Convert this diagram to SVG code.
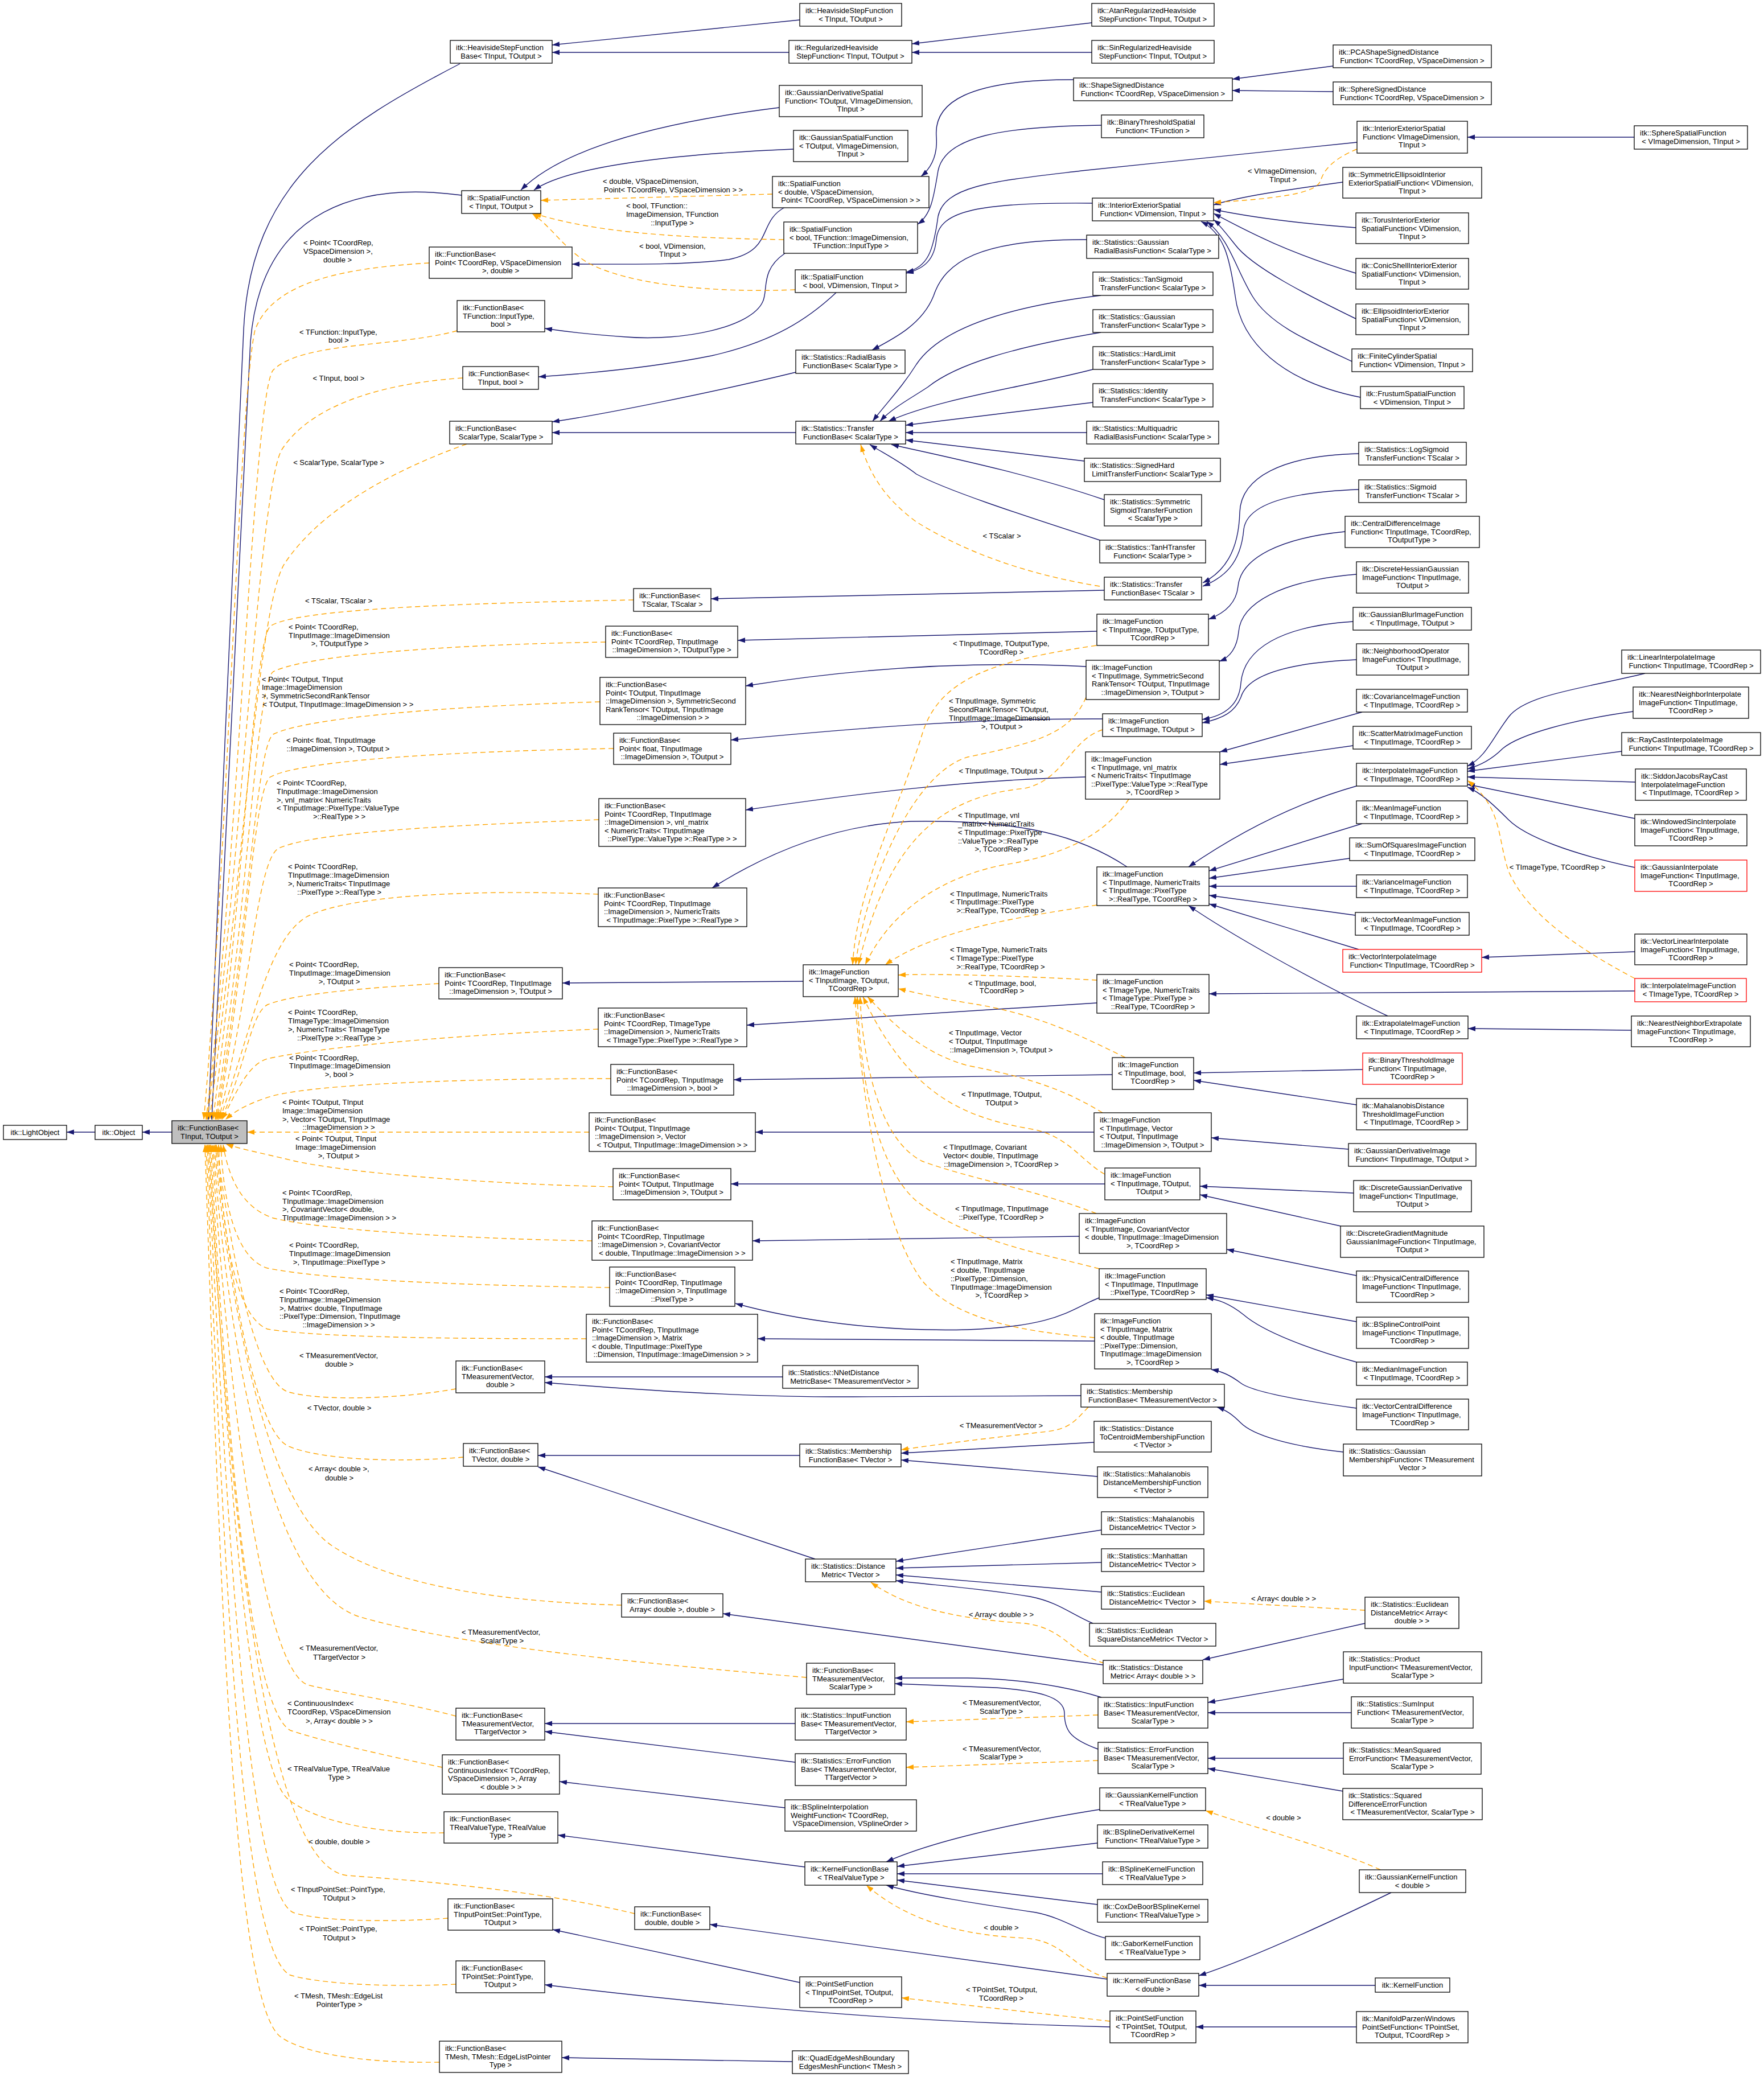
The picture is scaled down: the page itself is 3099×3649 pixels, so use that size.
<svg xmlns="http://www.w3.org/2000/svg" width="3099" height="3649" viewBox="0 0 3099 3649">
<style>
.b{fill:#fff;stroke:#000;stroke-width:1.3}
.g{fill:#bfbfbf;stroke:#000;stroke-width:1.3}
.r{fill:#fff;stroke:#ff0000;stroke-width:1.3}
text{font-family:"Liberation Sans",Arial,Helvetica,sans-serif;font-size:13px;fill:#000}
.c{text-anchor:middle}
.e{fill:none;stroke:#191970;stroke-width:1.4;marker-end:url(#an)}
.d{fill:none;stroke:#ffa500;stroke-width:1.4;stroke-dasharray:9,6;marker-end:url(#ao)}
</style>
<defs>
<marker id="an" markerWidth="14" markerHeight="10" refX="13" refY="5" orient="auto" markerUnits="userSpaceOnUse"><path d="M0,0.5 L13,5 L0,9.5 z" fill="#191970"/></marker>
<marker id="ao" markerWidth="14" markerHeight="10" refX="13" refY="5" orient="auto" markerUnits="userSpaceOnUse"><path d="M0,0.5 L13,5 L0,9.5 z" fill="#ffa500"/></marker>
</defs>
<rect width="3099" height="3649" fill="#fff"/>
<g id="connectors">
<path class="e" d="M167,1989 L117,1989"/>
<path class="e" d="M302,1989 L250,1989"/>
<path class="e" d="M808,112 C600,220 440,320 428,580 C415,900 380,1600 366,1967"/>
<path class="e" d="M811,343 C640,320 460,360 440,600 C425,900 390,1600 372,1967"/>
<path class="e" d="M1405,35 L970,79"/>
<path class="e" d="M1386,92 L970,92"/>
<path class="e" d="M1918,40 L1602,77"/>
<path class="e" d="M1918,92 L1602,92"/>
<path class="e" d="M1369,189 C1200,210 1000,250 915,334"/>
<path class="e" d="M1394,262 C1200,270 1000,290 938,334"/>
<path class="e" d="M1379,364 C1330,390 1360,440 1280,456 C1200,466 1100,464 1005,464"/>
<path class="e" d="M1886,140 C1700,140 1640,180 1645,240 C1648,280 1630,300 1618,310"/>
<path class="e" d="M2342,116 L2165,139"/>
<path class="e" d="M2342,161 L2165,159"/>
<path class="e" d="M1935,220 C1760,222 1660,240 1648,300 C1640,350 1635,378 1612,394"/>
<path class="e" d="M1379,445 C1335,475 1350,510 1340,530 C1320,575 1200,600 1100,592 C1040,588 990,582 957,577"/>
<path class="e" d="M1469,514 C1420,560 1360,600 1250,625 C1150,645 1050,655 946,662"/>
<path class="e" d="M1398,654 C1250,690 1050,730 970,741"/>
<path class="e" d="M1398,760 L970,760"/>
<path class="e" d="M1919,357 C1720,355 1650,370 1645,420 C1642,455 1625,472 1592,480"/>
<path class="e" d="M2384,250 L1900,300 C1750,318 1660,325 1648,380 C1640,440 1630,470 1592,478"/>
<path class="e" d="M1909,421 C1720,420 1660,460 1640,520 C1620,570 1570,595 1532,615"/>
<path class="e" d="M2871,241 L2578,241"/>
<path class="e" d="M2359,320 C2250,335 2180,345 2132,360"/>
<path class="e" d="M2382,400 C2250,390 2180,378 2132,368"/>
<path class="e" d="M2382,480 C2250,440 2180,400 2132,375"/>
<path class="e" d="M2382,560 C2300,520 2200,470 2170,430 C2150,405 2140,392 2132,386"/>
<path class="e" d="M2375,635 C2300,600 2230,570 2200,520 C2170,470 2160,420 2120,389"/>
<path class="e" d="M2390,698 C2250,670 2180,600 2170,520 C2160,450 2150,410 2110,389"/>
<path class="e" d="M1934,519 C1760,540 1650,580 1610,640 C1585,680 1560,705 1533,740"/>
<path class="e" d="M1934,584 C1780,610 1680,640 1630,680 C1600,700 1570,715 1546,740"/>
<path class="e" d="M1920,649 C1800,680 1650,700 1561,740"/>
<path class="e" d="M1920,707 L1591,747"/>
<path class="e" d="M1909,760 L1591,760"/>
<path class="e" d="M1905,810 L1591,773"/>
<path class="e" d="M1940,878 C1800,830 1650,800 1566,781"/>
<path class="e" d="M1932,949 C1780,900 1660,860 1610,833 C1580,810 1550,795 1528,781"/>
<path class="d" d="M1932,1030 C1780,1005 1680,960 1610,917 C1560,880 1530,840 1512,781"/>
<path class="e" d="M2387,797 C2250,800 2180,840 2178,900 C2176,970 2150,1005 2113,1024"/>
<path class="e" d="M2387,860 C2250,865 2190,890 2185,930 C2180,990 2150,1015 2113,1030"/>
<path class="e" d="M1940,1037 L1249,1052"/>
<path class="e" d="M1927,1109 L1296,1125"/>
<path class="e" d="M2363,934 C2250,945 2180,980 2175,1030 C2172,1060 2150,1078 2123,1088"/>
<path class="e" d="M1908,1171 C1700,1160 1500,1175 1310,1205"/>
<path class="e" d="M2383,1009 C2250,1020 2180,1060 2176,1110 C2173,1140 2160,1155 2142,1162"/>
<path class="e" d="M1937,1263 C1700,1262 1500,1280 1284,1300"/>
<path class="e" d="M2377,1092 C2250,1100 2185,1140 2180,1200 C2177,1240 2150,1258 2112,1264"/>
<path class="e" d="M2383,1159 C2250,1165 2190,1190 2180,1225 C2170,1250 2150,1262 2112,1270"/>
<path class="e" d="M1907,1365 C1700,1370 1500,1395 1310,1423"/>
<path class="e" d="M2393,1251 L2143,1321"/>
<path class="e" d="M2377,1310 L2143,1343"/>
<path class="e" d="M1980,1523 C1900,1470 1800,1440 1600,1443 C1450,1450 1330,1510 1251,1560"/>
<path class="e" d="M2383,1381 C2280,1410 2180,1460 2088,1523"/>
<path class="e" d="M2393,1447 L2124,1530"/>
<path class="e" d="M2371,1508 L2124,1543"/>
<path class="e" d="M2383,1557 L2124,1557"/>
<path class="e" d="M2381,1608 L2124,1573"/>
<path class="e" d="M2387,1668 L2124,1588"/>
<path class="e" d="M2438,1785 C2300,1720 2160,1640 2088,1591"/>
<path class="e" d="M2890,1183 C2780,1210 2680,1220 2650,1260 C2620,1300 2610,1330 2578,1346"/>
<path class="e" d="M2869,1250 C2760,1265 2670,1290 2640,1315 C2620,1335 2600,1345 2578,1351"/>
<path class="e" d="M2849,1320 L2578,1355"/>
<path class="e" d="M2873,1374 L2578,1365"/>
<path class="e" d="M2872,1438 L2578,1378"/>
<path class="e" d="M2872,1524 C2760,1500 2680,1470 2650,1440 C2620,1410 2600,1392 2578,1383"/>
<path class="d" d="M2872,1719 C2760,1660 2680,1600 2650,1530 C2630,1470 2640,1420 2578,1371"/>
<path class="e" d="M2872,1741 L2124,1746"/>
<path class="e" d="M2872,1672 L2603,1682"/>
<path class="e" d="M2866,1810 L2579,1807"/>
<path class="e" d="M1927,1762 C1700,1775 1500,1790 1312,1801"/>
<path class="e" d="M1411,1724 L988,1727"/>
<path class="e" d="M1954,1888 L1289,1897"/>
<path class="e" d="M2394,1879 L2097,1885"/>
<path class="e" d="M2383,1941 L2097,1898"/>
<path class="e" d="M1922,1989 L1327,1989"/>
<path class="e" d="M2369,2019 L2128,1999"/>
<path class="e" d="M1941,2080 L1284,2080"/>
<path class="e" d="M2378,2096 L2108,2084"/>
<path class="e" d="M2355,2154 L2108,2099"/>
<path class="e" d="M1896,2172 L1322,2180"/>
<path class="e" d="M2383,2241 L2155,2195"/>
<path class="e" d="M1931,2280 C1880,2300 1860,2330 1700,2336 C1550,2340 1400,2320 1292,2290"/>
<path class="e" d="M2383,2322 L2119,2275"/>
<path class="e" d="M2383,2393 C2300,2370 2220,2340 2185,2310 C2160,2290 2140,2283 2119,2280"/>
<path class="e" d="M1923,2356 L1331,2352"/>
<path class="e" d="M2383,2474 C2280,2460 2200,2445 2180,2430 C2160,2415 2145,2409 2128,2406"/>
<path class="e" d="M1375,2419 L957,2419"/>
<path class="e" d="M1899,2452 L1500,2454 C1300,2455 1100,2440 957,2429"/>
<path class="e" d="M2360,2551 C2260,2540 2200,2520 2180,2500 C2165,2485 2155,2478 2138,2472"/>
<path class="e" d="M1405,2557 L945,2557"/>
<path class="d" d="M1912,2472 C1890,2495 1880,2510 1840,2515 C1750,2525 1650,2537 1583,2547"/>
<path class="e" d="M1922,2534 L1583,2553"/>
<path class="e" d="M1928,2594 L1583,2565"/>
<path class="e" d="M1432,2739 L945,2577"/>
<path class="e" d="M1935,2688 L1574,2743"/>
<path class="e" d="M1935,2745 L1574,2755"/>
<path class="e" d="M1935,2797 L1574,2767"/>
<path class="e" d="M1920,2852 C1880,2835 1860,2815 1810,2805 C1720,2790 1640,2785 1574,2777"/>
<path class="e" d="M1938,2925 L1270,2835"/>
<path class="d" d="M1940,2922 C1880,2905 1870,2860 1800,2852 C1700,2845 1600,2830 1530,2780"/>
<path class="e" d="M2398,2852 L2113,2916"/>
<path class="d" d="M2398,2829 L2115,2813"/>
<path class="e" d="M1935,2982 C1880,2965 1800,2950 1700,2948 L1572,2948"/>
<path class="e" d="M1929,3073 C1880,3055 1870,3040 1870,3010 C1870,2980 1820,2970 1750,2965 C1680,2962 1620,2960 1572,2958"/>
<path class="d" d="M1929,3013 L1592,3025"/>
<path class="d" d="M1929,3093 L1592,3105"/>
<path class="e" d="M2360,2950 L2122,2991"/>
<path class="e" d="M2374,3009 L2122,3009"/>
<path class="e" d="M2360,3089 L2122,3089"/>
<path class="e" d="M2360,3147 L2122,3107"/>
<path class="e" d="M1397,3028 L957,3028"/>
<path class="e" d="M1397,3096 L957,3042"/>
<path class="e" d="M1379,3176 L983,3130"/>
<path class="e" d="M1414,3280 L980,3224"/>
<path class="e" d="M1932,3179 C1800,3200 1650,3230 1557,3271"/>
<path class="e" d="M1928,3238 L1576,3279"/>
<path class="e" d="M1937,3292 L1576,3292"/>
<path class="e" d="M1928,3346 L1576,3303"/>
<path class="e" d="M1942,3405 C1900,3395 1870,3370 1820,3360 C1720,3345 1620,3330 1557,3312"/>
<path class="e" d="M1945,3477 L1247,3381"/>
<path class="d" d="M1945,3475 C1880,3455 1870,3410 1800,3405 C1700,3400 1600,3380 1522,3312"/>
<path class="e" d="M2444,3325 C2330,3380 2200,3440 2106,3471"/>
<path class="d" d="M2425,3285 C2350,3250 2200,3210 2118,3181"/>
<path class="e" d="M2416,3488 L2106,3488"/>
<path class="e" d="M1405,3483 L971,3390"/>
<path class="e" d="M1950,3561 C1700,3555 1400,3540 957,3487"/>
<path class="d" d="M1950,3551 L1584,3510"/>
<path class="e" d="M2383,3561 L2101,3561"/>
<path class="e" d="M1392,3622 L987,3615"/>
<path class="d" d="M1357,341 L950,352"/>
<path class="d" d="M1377,421 C1200,418 1050,410 938,375"/>
<path class="d" d="M1397,509 C1250,515 1100,500 1030,460 C990,435 970,400 935,375"/>
<path class="d" d="M2384,262 C2340,280 2325,300 2320,318 C2310,340 2250,348 2132,356"/>
<path class="d" d="M1926,1134 C1750,1160 1650,1190 1620,1290 C1580,1420 1505,1560 1498,1695"/>
<path class="d" d="M1908,1225 C1880,1290 1820,1305 1700,1330 C1600,1360 1520,1560 1503,1695"/>
<path class="d" d="M1937,1282 C1880,1300 1870,1370 1800,1385 C1650,1400 1560,1480 1508,1695"/>
<path class="d" d="M1983,1404 C1940,1470 1860,1505 1760,1520 C1640,1545 1560,1610 1520,1695"/>
<path class="d" d="M1927,1590 C1800,1610 1650,1630 1555,1695"/>
<path class="d" d="M1927,1722 C1800,1715 1650,1710 1578,1713"/>
<path class="d" d="M1977,1858 C1900,1820 1820,1780 1700,1762 C1640,1752 1600,1742 1578,1737"/>
<path class="d" d="M1937,1955 C1880,1920 1820,1895 1700,1872 C1620,1850 1570,1800 1524,1751"/>
<path class="d" d="M1941,2063 C1900,2040 1880,2000 1820,1985 C1700,1965 1600,1930 1516,1751"/>
<path class="d" d="M1926,2132 C1820,2090 1700,2070 1620,2040 C1540,2000 1515,1850 1511,1751"/>
<path class="d" d="M1931,2229 C1820,2200 1700,2180 1610,2110 C1530,2040 1510,1860 1506,1751"/>
<path class="d" d="M1923,2350 C1800,2340 1680,2320 1620,2250 C1540,2140 1510,1880 1502,1751"/>
<path class="d" d="M754,462 C620,470 480,490 448,580 C420,700 400,1500 358,1967"/>
<path class="d" d="M803,581 C700,610 530,600 480,650 C445,690 420,1500 362,1967"/>
<path class="d" d="M813,664 C650,675 540,720 495,790 C455,860 425,1500 364,1967"/>
<path class="d" d="M820,780 C680,830 560,900 500,990 C455,1060 430,1500 368,1967"/>
<path class="d" d="M1113,1054 C800,1060 520,1070 475,1100 C445,1130 430,1550 374,1967"/>
<path class="d" d="M1064,1128 C800,1132 540,1150 480,1180 C450,1200 435,1600 378,1967"/>
<path class="d" d="M1054,1233 C800,1240 540,1260 480,1290 C450,1310 435,1650 380,1967"/>
<path class="d" d="M1078,1315 C800,1320 530,1335 475,1365 C445,1385 432,1700 382,1967"/>
<path class="d" d="M1052,1440 C800,1450 560,1460 490,1490 C450,1510 440,1750 384,1967"/>
<path class="d" d="M1051,1571 C850,1563 620,1570 540,1610 C470,1650 445,1800 386,1967"/>
<path class="d" d="M771,1728 C650,1735 520,1745 470,1765 C440,1780 430,1880 388,1967"/>
<path class="d" d="M1051,1808 C800,1818 560,1840 470,1860 C435,1870 415,1920 390,1967"/>
<path class="d" d="M1073,1895 C800,1895 560,1905 480,1925 C440,1937 415,1950 396,1967"/>
<path class="d" d="M1035,1989 L434,1989"/>
<path class="d" d="M1077,2085 C850,2080 600,2060 510,2038 C460,2026 420,2018 397,2010"/>
<path class="d" d="M1040,2180 C800,2176 560,2160 480,2140 C420,2120 400,2060 392,2011"/>
<path class="d" d="M1071,2262 C800,2258 570,2248 470,2228 C410,2210 392,2100 388,2011"/>
<path class="d" d="M1030,2352 C800,2352 560,2350 470,2335 C405,2310 388,2120 384,2011"/>
<path class="d" d="M801,2440 C700,2458 560,2462 505,2445 C440,2420 400,2150 380,2011"/>
<path class="d" d="M814,2560 C700,2570 560,2565 505,2540 C440,2505 400,2200 378,2011"/>
<path class="d" d="M1092,2820 C900,2815 700,2790 590,2720 C470,2650 405,2300 376,2011"/>
<path class="d" d="M1417,2947 C1100,2920 800,2890 630,2840 C480,2790 405,2400 374,2011"/>
<path class="d" d="M801,3015 C700,2988 600,2975 540,2960 C465,2930 405,2500 372,2011"/>
<path class="d" d="M777,3105 C680,3085 570,3060 510,3040 C440,3000 400,2550 370,2011"/>
<path class="d" d="M780,3220 C680,3222 560,3205 505,3160 C440,3100 400,2600 368,2011"/>
<path class="d" d="M1115,3362 C950,3322 750,3305 610,3295 C470,3280 405,2700 366,2011"/>
<path class="d" d="M787,3370 C680,3378 560,3375 515,3360 C435,3320 400,2700 364,2011"/>
<path class="d" d="M801,3486 C680,3492 560,3485 510,3470 C425,3430 395,2800 362,2011"/>
<path class="d" d="M772,3623 C650,3625 540,3610 495,3580 C415,3530 390,2900 360,2011"/>
</g>
<g id="edge-labels">
<text x="533" y="431">&lt; Point&lt; TCoordRep,</text><text x="533" y="446">VSpaceDimension &gt;,</text><text class="c" x="593" y="461">double &gt;</text>
<text x="526" y="588">&lt; TFunction::InputType,</text><text class="c" x="595" y="602">bool &gt;</text>
<text class="c" x="595" y="669">&lt; TInput, bool &gt;</text>
<text class="c" x="595" y="817">&lt; ScalarType, ScalarType &gt;</text>
<text class="c" x="595" y="1060">&lt; TScalar, TScalar &gt;</text>
<text x="507" y="1106">&lt; Point&lt; TCoordRep,</text><text x="507" y="1121">TInputImage::ImageDimension</text><text class="c" x="597" y="1135">&gt;, TOutputType &gt;</text>
<text x="460" y="1198">&lt; Point&lt; TOutput, TInput</text><text x="460" y="1212">Image::ImageDimension</text><text x="460" y="1227">&gt;, SymmetricSecondRankTensor</text><text class="c" x="594" y="1242">&lt; TOutput, TInputImage::ImageDimension &gt; &gt;</text>
<text x="503" y="1305">&lt; Point&lt; float, TInputImage</text><text class="c" x="594" y="1320">::ImageDimension &gt;, TOutput &gt;</text>
<text x="486" y="1380">&lt; Point&lt; TCoordRep,</text><text x="486" y="1395">TInputImage::ImageDimension</text><text x="486" y="1410">&gt;, vnl_matrix&lt; NumericTraits</text><text x="486" y="1424">&lt; TInputImage::PixelType::ValueType</text><text class="c" x="596" y="1439">&gt;::RealType &gt; &gt;</text>
<text x="506" y="1527">&lt; Point&lt; TCoordRep,</text><text x="506" y="1542">TInputImage::ImageDimension</text><text x="506" y="1557">&gt;, NumericTraits&lt; TInputImage</text><text class="c" x="596" y="1572">::PixelType &gt;::RealType &gt;</text>
<text x="508" y="1699">&lt; Point&lt; TCoordRep,</text><text x="508" y="1714">TInputImage::ImageDimension</text><text class="c" x="596" y="1729">&gt;, TOutput &gt;</text>
<text x="506" y="1783">&lt; Point&lt; TCoordRep,</text><text x="506" y="1798">TImageType::ImageDimension</text><text x="506" y="1813">&gt;, NumericTraits&lt; TImageType</text><text class="c" x="596" y="1828">::PixelType &gt;::RealType &gt;</text>
<text x="508" y="1863">&lt; Point&lt; TCoordRep,</text><text x="508" y="1877">TInputImage::ImageDimension</text><text class="c" x="596" y="1892">&gt;, bool &gt;</text>
<text x="496" y="1941">&lt; Point&lt; TOutput, TInput</text><text x="496" y="1956">Image::ImageDimension</text><text x="496" y="1971">&gt;, Vector&lt; TOutput, TInputImage</text><text class="c" x="595" y="1985">::ImageDimension &gt; &gt;</text>
<text x="519" y="2005">&lt; Point&lt; TOutput, TInput</text><text x="519" y="2020">Image::ImageDimension</text><text class="c" x="595" y="2035">&gt;, TOutput &gt;</text>
<text x="496" y="2100">&lt; Point&lt; TCoordRep,</text><text x="496" y="2115">TInputImage::ImageDimension</text><text x="496" y="2129">&gt;, CovariantVector&lt; double,</text><text class="c" x="596" y="2144">TInputImage::ImageDimension &gt; &gt;</text>
<text x="508" y="2192">&lt; Point&lt; TCoordRep,</text><text x="508" y="2207">TInputImage::ImageDimension</text><text class="c" x="596" y="2222">&gt;, TInputImage::PixelType &gt;</text>
<text x="491" y="2273">&lt; Point&lt; TCoordRep,</text><text x="491" y="2288">TInputImage::ImageDimension</text><text x="491" y="2303">&gt;, Matrix&lt; double, TInputImage</text><text x="491" y="2317">::PixelType::Dimension, TInputImage</text><text class="c" x="595" y="2332">::ImageDimension &gt; &gt;</text>
<text x="526" y="2386">&lt; TMeasurementVector,</text><text class="c" x="596" y="2401">double &gt;</text>
<text class="c" x="596" y="2478">&lt; TVector, double &gt;</text>
<text x="542" y="2585">&lt; Array&lt; double &gt;,</text><text class="c" x="596" y="2601">double &gt;</text>
<text x="811" y="2872">&lt; TMeasurementVector,</text><text class="c" x="882" y="2887">ScalarType &gt;</text>
<text x="526" y="2900">&lt; TMeasurementVector,</text><text class="c" x="596" y="2916">TTargetVector &gt;</text>
<text x="505" y="2997">&lt; ContinuousIndex&lt;</text><text x="505" y="3012">TCoordRep, VSpaceDimension</text><text class="c" x="596" y="3028">&gt;, Array&lt; double &gt; &gt;</text>
<text x="505" y="3112">&lt; TRealValueType, TRealValue</text><text class="c" x="596" y="3127">Type &gt;</text>
<text class="c" x="596" y="3240">&lt; double, double &gt;</text>
<text x="511" y="3324">&lt; TInputPointSet::PointType,</text><text class="c" x="596" y="3339">TOutput &gt;</text>
<text x="526" y="3393">&lt; TPointSet::PointType,</text><text class="c" x="596" y="3409">TOutput &gt;</text>
<text x="517" y="3511">&lt; TMesh, TMesh::EdgeList</text><text class="c" x="596" y="3526">PointerType &gt;</text>
<text x="1059" y="323">&lt; double, VSpaceDimension,</text><text class="c" x="1183" y="338">Point&lt; TCoordRep, VSpaceDimension &gt; &gt;</text>
<text x="1100" y="366">&lt; bool, TFunction::</text><text x="1100" y="381">ImageDimension, TFunction</text><text class="c" x="1181" y="396">::InputType &gt;</text>
<text x="1123" y="437">&lt; bool, VDimension,</text><text class="c" x="1182" y="451">TInput &gt;</text>
<text x="2192" y="305">&lt; VImageDimension,</text><text class="c" x="2254" y="320">TInput &gt;</text>
<text class="c" x="1760" y="946">&lt; TScalar &gt;</text>
<text x="1674" y="1135">&lt; TInputImage, TOutputType,</text><text class="c" x="1759" y="1150">TCoordRep &gt;</text>
<text x="1667" y="1236">&lt; TInputImage, Symmetric</text><text x="1667" y="1251">SecondRankTensor&lt; TOutput,</text><text x="1667" y="1266">TInputImage::ImageDimension</text><text class="c" x="1760" y="1281">&gt;, TOutput &gt;</text>
<text class="c" x="1759" y="1359">&lt; TInputImage, TOutput &gt;</text>
<text x="1683" y="1437">&lt; TInputImage, vnl</text><text x="1683" y="1452">_matrix&lt; NumericTraits</text><text x="1683" y="1467">&lt; TInputImage::PixelType</text><text x="1683" y="1482">::ValueType &gt;::RealType</text><text class="c" x="1759" y="1496">&gt;, TCoordRep &gt;</text>
<text x="1669" y="1575">&lt; TInputImage, NumericTraits</text><text x="1669" y="1589">&lt; TInputImage::PixelType</text><text class="c" x="1758" y="1604">&gt;::RealType, TCoordRep &gt;</text>
<text x="1669" y="1673">&lt; TImageType, NumericTraits</text><text x="1669" y="1688">&lt; TImageType::PixelType</text><text class="c" x="1758" y="1703">&gt;::RealType, TCoordRep &gt;</text>
<text x="1701" y="1732">&lt; TInputImage, bool,</text><text class="c" x="1760" y="1745">TCoordRep &gt;</text>
<text x="1667" y="1819">&lt; TInputImage, Vector</text><text x="1667" y="1834">&lt; TOutput, TInputImage</text><text class="c" x="1759" y="1849">::ImageDimension &gt;, TOutput &gt;</text>
<text x="1689" y="1927">&lt; TInputImage, TOutput,</text><text class="c" x="1760" y="1942">TOutput &gt;</text>
<text x="1657" y="2020">&lt; TInputImage, Covariant</text><text x="1657" y="2035">Vector&lt; double, TInputImage</text><text class="c" x="1759" y="2050">::ImageDimension &gt;, TCoordRep &gt;</text>
<text x="1678" y="2128">&lt; TInputImage, TInputImage</text><text class="c" x="1759" y="2143">::PixelType, TCoordRep &gt;</text>
<text x="1670" y="2221">&lt; TInputImage, Matrix</text><text x="1670" y="2236">&lt; double, TInputImage</text><text x="1670" y="2251">::PixelType::Dimension,</text><text x="1670" y="2266">TInputImage::ImageDimension</text><text class="c" x="1760" y="2280">&gt;, TCoordRep &gt;</text>
<text class="c" x="2736" y="1528">&lt; TImageType, TCoordRep &gt;</text>
<text class="c" x="1759" y="2509">&lt; TMeasurementVector &gt;</text>
<text class="c" x="2255" y="2813">&lt; Array&lt; double &gt; &gt;</text>
<text class="c" x="1759" y="2841">&lt; Array&lt; double &gt; &gt;</text>
<text x="1691" y="2996">&lt; TMeasurementVector,</text><text class="c" x="1759" y="3011">ScalarType &gt;</text>
<text x="1691" y="3077">&lt; TMeasurementVector,</text><text class="c" x="1759" y="3091">ScalarType &gt;</text>
<text class="c" x="2255" y="3198">&lt; double &gt;</text>
<text class="c" x="1759" y="3391">&lt; double &gt;</text>
<text x="1697" y="3500">&lt; TPointSet, TOutput,</text><text class="c" x="1759" y="3515">TCoordRep &gt;</text>
</g>
<g id="lightobject"><rect class="b" x="6" y="1977" width="111" height="25"/><text class="c" x="61.5" y="1994">itk::LightObject</text></g>
<g id="object"><rect class="b" x="167" y="1977" width="83" height="25"/><text class="c" x="208.5" y="1994">itk::Object</text></g>
<g id="functionbase"><rect class="g" x="302" y="1969" width="132" height="40"/><text x="312" y="1986">itk::FunctionBase&lt;</text><text class="c" x="368" y="2000.5">TInput, TOutput &gt;</text></g>
<g id="hsfbase"><rect class="b" x="791" y="71" width="179" height="40"/><text x="801" y="88">itk::HeavisideStepFunction</text><text class="c" x="880.5" y="102.5">Base&lt; TInput, TOutput &gt;</text></g>
<g id="hsf"><rect class="b" x="1405" y="6" width="179" height="40"/><text x="1415" y="23">itk::HeavisideStepFunction</text><text class="c" x="1494.5" y="37.5">&lt; TInput, TOutput &gt;</text></g>
<g id="regh"><rect class="b" x="1386" y="71" width="216" height="40"/><text x="1396" y="88">itk::RegularizedHeaviside</text><text class="c" x="1494" y="102.5">StepFunction&lt; TInput, TOutput &gt;</text></g>
<g id="atan"><rect class="b" x="1918" y="6" width="215" height="40"/><text x="1928" y="23">itk::AtanRegularizedHeaviside</text><text class="c" x="2025.5" y="37.5">StepFunction&lt; TInput, TOutput &gt;</text></g>
<g id="sinreg"><rect class="b" x="1918" y="71" width="215" height="40"/><text x="1928" y="88">itk::SinRegularizedHeaviside</text><text class="c" x="2025.5" y="102.5">StepFunction&lt; TInput, TOutput &gt;</text></g>
<g id="gds"><rect class="b" x="1369" y="150" width="251" height="55"/><text x="1379" y="167">itk::GaussianDerivativeSpatial</text><text x="1379" y="181.5">Function&lt; TOutput, VImageDimension,</text><text class="c" x="1494.5" y="196">TInput &gt;</text></g>
<g id="gsf"><rect class="b" x="1394" y="229" width="201" height="55"/><text x="1404" y="246">itk::GaussianSpatialFunction</text><text x="1404" y="260.5">&lt; TOutput, VImageDimension,</text><text class="c" x="1494.5" y="275">TInput &gt;</text></g>
<g id="sfdouble"><rect class="b" x="1357" y="310" width="275" height="55"/><text x="1367" y="327">itk::SpatialFunction</text><text x="1367" y="341.5">&lt; double, VSpaceDimension,</text><text class="c" x="1494.5" y="356">Point&lt; TCoordRep, VSpaceDimension &gt; &gt;</text></g>
<g id="sfbooltf"><rect class="b" x="1377" y="390" width="235" height="55"/><text x="1387" y="407">itk::SpatialFunction</text><text x="1387" y="421.5">&lt; bool, TFunction::ImageDimension,</text><text class="c" x="1494.5" y="436">TFunction::InputType &gt;</text></g>
<g id="sfboolv"><rect class="b" x="1397" y="474" width="195" height="40"/><text x="1407" y="491">itk::SpatialFunction</text><text class="c" x="1494.5" y="505.5">&lt; bool, VDimension, TInput &gt;</text></g>
<g id="sf"><rect class="b" x="811" y="335" width="139" height="40"/><text x="821" y="352">itk::SpatialFunction</text><text class="c" x="880.5" y="366.5">&lt; TInput, TOutput &gt;</text></g>
<g id="fbvspace"><rect class="b" x="754" y="434" width="251" height="55"/><text x="764" y="451">itk::FunctionBase&lt;</text><text x="764" y="465.5">Point&lt; TCoordRep, VSpaceDimension</text><text class="c" x="879.5" y="480">&gt;, double &gt;</text></g>
<g id="fbtfunction"><rect class="b" x="803" y="528" width="154" height="55"/><text x="813" y="545">itk::FunctionBase&lt;</text><text x="813" y="559.5">TFunction::InputType,</text><text class="c" x="880" y="574">bool &gt;</text></g>
<g id="fbtinputbool"><rect class="b" x="813" y="644" width="133" height="40"/><text x="823" y="661">itk::FunctionBase&lt;</text><text class="c" x="879.5" y="675.5">TInput, bool &gt;</text></g>
<g id="fbscalar"><rect class="b" x="790" y="740" width="180" height="40"/><text x="800" y="757">itk::FunctionBase&lt;</text><text class="c" x="880" y="771.5">ScalarType, ScalarType &gt;</text></g>
<g id="ssdf"><rect class="b" x="1886" y="137" width="279" height="40"/><text x="1896" y="154">itk::ShapeSignedDistance</text><text class="c" x="2025.5" y="168.5">Function&lt; TCoordRep, VSpaceDimension &gt;</text></g>
<g id="pcassdf"><rect class="b" x="2342" y="79" width="278" height="40"/><text x="2352" y="96">itk::PCAShapeSignedDistance</text><text class="c" x="2481" y="110.5">Function&lt; TCoordRep, VSpaceDimension &gt;</text></g>
<g id="spheresdf"><rect class="b" x="2342" y="144" width="278" height="40"/><text x="2352" y="161">itk::SphereSignedDistance</text><text class="c" x="2481" y="175.5">Function&lt; TCoordRep, VSpaceDimension &gt;</text></g>
<g id="btsf"><rect class="b" x="1935" y="202" width="180" height="40"/><text x="1945" y="219">itk::BinaryThresholdSpatial</text><text class="c" x="2025" y="233.5">Function&lt; TFunction &gt;</text></g>
<g id="iesfv"><rect class="b" x="1919" y="348" width="213" height="40"/><text x="1929" y="365">itk::InteriorExteriorSpatial</text><text class="c" x="2025.5" y="379.5">Function&lt; VDimension, TInput &gt;</text></g>
<g id="grbf"><rect class="b" x="1909" y="413" width="232" height="41"/><text x="1919" y="430">itk::Statistics::Gaussian</text><text class="c" x="2025" y="444.5">RadialBasisFunction&lt; ScalarType &gt;</text></g>
<g id="tansig"><rect class="b" x="1920" y="478" width="211" height="41"/><text x="1930" y="495">itk::Statistics::TanSigmoid</text><text class="c" x="2025.5" y="509.5">TransferFunction&lt; ScalarType &gt;</text></g>
<g id="gausstf"><rect class="b" x="1920" y="544" width="211" height="40"/><text x="1930" y="561">itk::Statistics::Gaussian</text><text class="c" x="2025.5" y="575.5">TransferFunction&lt; ScalarType &gt;</text></g>
<g id="hardlim"><rect class="b" x="1920" y="609" width="211" height="40"/><text x="1930" y="626">itk::Statistics::HardLimit</text><text class="c" x="2025.5" y="640.5">TransferFunction&lt; ScalarType &gt;</text></g>
<g id="identity"><rect class="b" x="1920" y="674" width="211" height="41"/><text x="1930" y="691">itk::Statistics::Identity</text><text class="c" x="2025.5" y="705.5">TransferFunction&lt; ScalarType &gt;</text></g>
<g id="multiq"><rect class="b" x="1909" y="740" width="232" height="40"/><text x="1919" y="757">itk::Statistics::Multiquadric</text><text class="c" x="2025" y="771.5">RadialBasisFunction&lt; ScalarType &gt;</text></g>
<g id="signedhl"><rect class="b" x="1905" y="805" width="239" height="41"/><text x="1915" y="822">itk::Statistics::SignedHard</text><text class="c" x="2024.5" y="836.5">LimitTransferFunction&lt; ScalarType &gt;</text></g>
<g id="symsig"><rect class="b" x="1940" y="869" width="171" height="55"/><text x="1950" y="886">itk::Statistics::Symmetric</text><text x="1950" y="900.5">SigmoidTransferFunction</text><text class="c" x="2025.5" y="915">&lt; ScalarType &gt;</text></g>
<g id="tanh"><rect class="b" x="1932" y="949" width="186" height="40"/><text x="1942" y="966">itk::Statistics::TanHTransfer</text><text class="c" x="2025" y="980.5">Function&lt; ScalarType &gt;</text></g>
<g id="rbfb"><rect class="b" x="1398" y="615" width="192" height="41"/><text x="1408" y="632">itk::Statistics::RadialBasis</text><text class="c" x="1494" y="646.5">FunctionBase&lt; ScalarType &gt;</text></g>
<g id="tfbscalar"><rect class="b" x="1398" y="740" width="193" height="40"/><text x="1408" y="757">itk::Statistics::Transfer</text><text class="c" x="1494.5" y="771.5">FunctionBase&lt; ScalarType &gt;</text></g>
<g id="iesfvi"><rect class="b" x="2384" y="213" width="194" height="56"/><text x="2394" y="230">itk::InteriorExteriorSpatial</text><text x="2394" y="244.5">Function&lt; VImageDimension,</text><text class="c" x="2481" y="259">TInput &gt;</text></g>
<g id="spheresf"><rect class="b" x="2871" y="221" width="199" height="41"/><text x="2881" y="238">itk::SphereSpatialFunction</text><text class="c" x="2970.5" y="252.5">&lt; VImageDimension, TInput &gt;</text></g>
<g id="symell"><rect class="b" x="2359" y="294" width="244" height="54"/><text x="2369" y="311">itk::SymmetricEllipsoidInterior</text><text x="2369" y="325.5">ExteriorSpatialFunction&lt; VDimension,</text><text class="c" x="2481" y="340">TInput &gt;</text></g>
<g id="torus"><rect class="b" x="2382" y="374" width="198" height="54"/><text x="2392" y="391">itk::TorusInteriorExterior</text><text x="2392" y="405.5">SpatialFunction&lt; VDimension,</text><text class="c" x="2481" y="420">TInput &gt;</text></g>
<g id="conic"><rect class="b" x="2382" y="454" width="198" height="54"/><text x="2392" y="471">itk::ConicShellInteriorExterior</text><text x="2392" y="485.5">SpatialFunction&lt; VDimension,</text><text class="c" x="2481" y="500">TInput &gt;</text></g>
<g id="ellipsoid"><rect class="b" x="2382" y="534" width="198" height="54"/><text x="2392" y="551">itk::EllipsoidInteriorExterior</text><text x="2392" y="565.5">SpatialFunction&lt; VDimension,</text><text class="c" x="2481" y="580">TInput &gt;</text></g>
<g id="finitecyl"><rect class="b" x="2375" y="613" width="212" height="40"/><text x="2385" y="630">itk::FiniteCylinderSpatial</text><text class="c" x="2481" y="644.5">Function&lt; VDimension, TInput &gt;</text></g>
<g id="frustum"><rect class="b" x="2390" y="679" width="182" height="39"/><text x="2400" y="696">itk::FrustumSpatialFunction</text><text class="c" x="2481" y="710.5">&lt; VDimension, TInput &gt;</text></g>
<g id="logsig"><rect class="b" x="2387" y="777" width="189" height="40"/><text x="2397" y="794">itk::Statistics::LogSigmoid</text><text class="c" x="2481.5" y="808.5">TransferFunction&lt; TScalar &gt;</text></g>
<g id="sigmoid"><rect class="b" x="2387" y="843" width="189" height="40"/><text x="2397" y="860">itk::Statistics::Sigmoid</text><text class="c" x="2481.5" y="874.5">TransferFunction&lt; TScalar &gt;</text></g>
<g id="tfbtscalar"><rect class="b" x="1940" y="1014" width="171" height="40"/><text x="1950" y="1031">itk::Statistics::Transfer</text><text class="c" x="2025.5" y="1045.5">FunctionBase&lt; TScalar &gt;</text></g>
<g id="fbtscalar"><rect class="b" x="1113" y="1034" width="136" height="40"/><text x="1123" y="1051">itk::FunctionBase&lt;</text><text class="c" x="1181" y="1065.5">TScalar, TScalar &gt;</text></g>
<g id="cdif"><rect class="b" x="2363" y="907" width="236" height="55"/><text x="2373" y="924">itk::CentralDifferenceImage</text><text x="2373" y="938.5">Function&lt; TInputImage, TCoordRep,</text><text class="c" x="2481" y="953">TOutputType &gt;</text></g>
<g id="dhg"><rect class="b" x="2383" y="987" width="197" height="55"/><text x="2393" y="1004">itk::DiscreteHessianGaussian</text><text x="2393" y="1018.5">ImageFunction&lt; TInputImage,</text><text class="c" x="2481.5" y="1033">TOutput &gt;</text></g>
<g id="gblur"><rect class="b" x="2377" y="1067" width="208" height="40"/><text x="2387" y="1084">itk::GaussianBlurImageFunction</text><text class="c" x="2481" y="1098.5">&lt; TInputImage, TOutput &gt;</text></g>
<g id="nop"><rect class="b" x="2383" y="1131" width="197" height="55"/><text x="2393" y="1148">itk::NeighborhoodOperator</text><text x="2393" y="1162.5">ImageFunction&lt; TInputImage,</text><text class="c" x="2481.5" y="1177">TOutput &gt;</text></g>
<g id="covif"><rect class="b" x="2383" y="1211" width="195" height="40"/><text x="2393" y="1228">itk::CovarianceImageFunction</text><text class="c" x="2480.5" y="1242.5">&lt; TInputImage, TCoordRep &gt;</text></g>
<g id="scatter"><rect class="b" x="2377" y="1276" width="208" height="40"/><text x="2387" y="1293">itk::ScatterMatrixImageFunction</text><text class="c" x="2481" y="1307.5">&lt; TInputImage, TCoordRep &gt;</text></g>
<g id="interp"><rect class="b" x="2383" y="1341" width="195" height="40"/><text x="2393" y="1358">itk::InterpolateImageFunction</text><text class="c" x="2480.5" y="1372.5">&lt; TInputImage, TCoordRep &gt;</text></g>
<g id="meanif"><rect class="b" x="2383" y="1407" width="195" height="40"/><text x="2393" y="1424">itk::MeanImageFunction</text><text class="c" x="2480.5" y="1438.5">&lt; TInputImage, TCoordRep &gt;</text></g>
<g id="sos"><rect class="b" x="2371" y="1472" width="220" height="40"/><text x="2381" y="1489">itk::SumOfSquaresImageFunction</text><text class="c" x="2481" y="1503.5">&lt; TInputImage, TCoordRep &gt;</text></g>
<g id="varif"><rect class="b" x="2383" y="1537" width="195" height="40"/><text x="2393" y="1554">itk::VarianceImageFunction</text><text class="c" x="2480.5" y="1568.5">&lt; TInputImage, TCoordRep &gt;</text></g>
<g id="vmean"><rect class="b" x="2381" y="1603" width="200" height="40"/><text x="2391" y="1620">itk::VectorMeanImageFunction</text><text class="c" x="2481" y="1634.5">&lt; TInputImage, TCoordRep &gt;</text></g>
<g id="vinterp"><rect class="r" x="2359" y="1668" width="244" height="40"/><text x="2369" y="1685">itk::VectorInterpolateImage</text><text class="c" x="2481" y="1699.5">Function&lt; TInputImage, TCoordRep &gt;</text></g>
<g id="extrap"><rect class="b" x="2383" y="1785" width="196" height="40"/><text x="2393" y="1802">itk::ExtrapolateImageFunction</text><text class="c" x="2481" y="1816.5">&lt; TInputImage, TCoordRep &gt;</text></g>
<g id="linear"><rect class="b" x="2849" y="1142" width="244" height="41"/><text x="2859" y="1159">itk::LinearInterpolateImage</text><text class="c" x="2971" y="1173.5">Function&lt; TInputImage, TCoordRep &gt;</text></g>
<g id="nninterp"><rect class="b" x="2869" y="1207" width="203" height="55"/><text x="2879" y="1224">itk::NearestNeighborInterpolate</text><text x="2879" y="1238.5">ImageFunction&lt; TInputImage,</text><text class="c" x="2970.5" y="1253">TCoordRep &gt;</text></g>
<g id="raycast"><rect class="b" x="2849" y="1287" width="244" height="40"/><text x="2859" y="1304">itk::RayCastInterpolateImage</text><text class="c" x="2971" y="1318.5">Function&lt; TInputImage, TCoordRep &gt;</text></g>
<g id="siddon"><rect class="b" x="2873" y="1351" width="195" height="55"/><text x="2883" y="1368">itk::SiddonJacobsRayCast</text><text x="2883" y="1382.5">InterpolateImageFunction</text><text class="c" x="2970.5" y="1397">&lt; TInputImage, TCoordRep &gt;</text></g>
<g id="wsinc"><rect class="b" x="2872" y="1431" width="197" height="55"/><text x="2882" y="1448">itk::WindowedSincInterpolate</text><text x="2882" y="1462.5">ImageFunction&lt; TInputImage,</text><text class="c" x="2970.5" y="1477">TCoordRep &gt;</text></g>
<g id="ginterp"><rect class="r" x="2872" y="1511" width="197" height="55"/><text x="2882" y="1528">itk::GaussianInterpolate</text><text x="2882" y="1542.5">ImageFunction&lt; TInputImage,</text><text class="c" x="2970.5" y="1557">TCoordRep &gt;</text></g>
<g id="vlinear"><rect class="b" x="2872" y="1641" width="197" height="54"/><text x="2882" y="1658">itk::VectorLinearInterpolate</text><text x="2882" y="1672.5">ImageFunction&lt; TInputImage,</text><text class="c" x="2970.5" y="1687">TCoordRep &gt;</text></g>
<g id="interpt"><rect class="r" x="2872" y="1719" width="196" height="41"/><text x="2882" y="1736">itk::InterpolateImageFunction</text><text class="c" x="2970" y="1750.5">&lt; TImageType, TCoordRep &gt;</text></g>
<g id="nnextrap"><rect class="b" x="2866" y="1785" width="209" height="54"/><text x="2876" y="1802">itk::NearestNeighborExtrapolate</text><text x="2876" y="1816.5">ImageFunction&lt; TInputImage,</text><text class="c" x="2970.5" y="1831">TCoordRep &gt;</text></g>
<g id="if_tot"><rect class="b" x="1927" y="1079" width="196" height="55"/><text x="1937" y="1096">itk::ImageFunction</text><text x="1937" y="1110.5">&lt; TInputImage, TOutputType,</text><text class="c" x="2025" y="1125">TCoordRep &gt;</text></g>
<g id="if_sym"><rect class="b" x="1908" y="1160" width="234" height="69"/><text x="1918" y="1177">itk::ImageFunction</text><text x="1918" y="1191.5">&lt; TInputImage, SymmetricSecond</text><text x="1918" y="1206">RankTensor&lt; TOutput, TInputImage</text><text class="c" x="2025" y="1220.5">::ImageDimension &gt;, TOutput &gt;</text></g>
<g id="if_to"><rect class="b" x="1937" y="1254" width="175" height="40"/><text x="1947" y="1271">itk::ImageFunction</text><text class="c" x="2024.5" y="1285.5">&lt; TInputImage, TOutput &gt;</text></g>
<g id="if_vnl"><rect class="b" x="1907" y="1321" width="236" height="83"/><text x="1917" y="1338">itk::ImageFunction</text><text x="1917" y="1352.5">&lt; TInputImage, vnl_matrix</text><text x="1917" y="1367">&lt; NumericTraits&lt; TInputImage</text><text x="1917" y="1381.5">::PixelType::ValueType &gt;::RealType</text><text class="c" x="2025" y="1396">&gt;, TCoordRep &gt;</text></g>
<g id="if_nt"><rect class="b" x="1927" y="1523" width="197" height="68"/><text x="1937" y="1540">itk::ImageFunction</text><text x="1937" y="1554.5">&lt; TInputImage, NumericTraits</text><text x="1937" y="1569">&lt; TInputImage::PixelType</text><text class="c" x="2025.5" y="1583.5">&gt;::RealType, TCoordRep &gt;</text></g>
<g id="imagefunction"><rect class="b" x="1411" y="1695" width="167" height="56"/><text x="1421" y="1712">itk::ImageFunction</text><text x="1421" y="1726.5">&lt; TInputImage, TOutput,</text><text class="c" x="1494.5" y="1741">TCoordRep &gt;</text></g>
<g id="if_timg"><rect class="b" x="1927" y="1712" width="197" height="68"/><text x="1937" y="1729">itk::ImageFunction</text><text x="1937" y="1743.5">&lt; TImageType, NumericTraits</text><text x="1937" y="1758">&lt; TImageType::PixelType &gt;</text><text class="c" x="2025.5" y="1772.5">::RealType, TCoordRep &gt;</text></g>
<g id="if_bool"><rect class="b" x="1954" y="1858" width="143" height="56"/><text x="1964" y="1875">itk::ImageFunction</text><text x="1964" y="1889.5">&lt; TInputImage, bool,</text><text class="c" x="2025.5" y="1904">TCoordRep &gt;</text></g>
<g id="if_vec"><rect class="b" x="1922" y="1955" width="206" height="68"/><text x="1932" y="1972">itk::ImageFunction</text><text x="1932" y="1986.5">&lt; TInputImage, Vector</text><text x="1932" y="2001">&lt; TOutput, TInputImage</text><text class="c" x="2025" y="2015.5">::ImageDimension &gt;, TOutput &gt;</text></g>
<g id="if_toto"><rect class="b" x="1941" y="2052" width="167" height="56"/><text x="1951" y="2069">itk::ImageFunction</text><text x="1951" y="2083.5">&lt; TInputImage, TOutput,</text><text class="c" x="2024.5" y="2098">TOutput &gt;</text></g>
<g id="if_cov"><rect class="b" x="1896" y="2132" width="259" height="70"/><text x="1906" y="2149">itk::ImageFunction</text><text x="1906" y="2163.5">&lt; TInputImage, CovariantVector</text><text x="1906" y="2178">&lt; double, TInputImage::ImageDimension</text><text class="c" x="2025.5" y="2192.5">&gt;, TCoordRep &gt;</text></g>
<g id="if_pix"><rect class="b" x="1931" y="2229" width="188" height="54"/><text x="1941" y="2246">itk::ImageFunction</text><text x="1941" y="2260.5">&lt; TInputImage, TInputImage</text><text class="c" x="2025" y="2275">::PixelType, TCoordRep &gt;</text></g>
<g id="if_mat"><rect class="b" x="1923" y="2308" width="205" height="97"/><text x="1933" y="2325">itk::ImageFunction</text><text x="1933" y="2339.5">&lt; TInputImage, Matrix</text><text x="1933" y="2354">&lt; double, TInputImage</text><text x="1933" y="2368.5">::PixelType::Dimension,</text><text x="1933" y="2383">TInputImage::ImageDimension</text><text class="c" x="2025.5" y="2397.5">&gt;, TCoordRep &gt;</text></g>
<g id="btimg"><rect class="r" x="2394" y="1850" width="175" height="55"/><text x="2404" y="1867">itk::BinaryThresholdImage</text><text x="2404" y="1881.5">Function&lt; TInputImage,</text><text class="c" x="2481.5" y="1896">TCoordRep &gt;</text></g>
<g id="mahathr"><rect class="b" x="2383" y="1930" width="195" height="55"/><text x="2393" y="1947">itk::MahalanobisDistance</text><text x="2393" y="1961.5">ThresholdImageFunction</text><text class="c" x="2480.5" y="1976">&lt; TInputImage, TCoordRep &gt;</text></g>
<g id="gdimg"><rect class="b" x="2369" y="2009" width="224" height="40"/><text x="2379" y="2026">itk::GaussianDerivativeImage</text><text class="c" x="2481" y="2040.5">Function&lt; TInputImage, TOutput &gt;</text></g>
<g id="dgd"><rect class="b" x="2378" y="2074" width="207" height="55"/><text x="2388" y="2091">itk::DiscreteGaussianDerivative</text><text x="2388" y="2105.5">ImageFunction&lt; TInputImage,</text><text class="c" x="2481.5" y="2120">TOutput &gt;</text></g>
<g id="dgm"><rect class="b" x="2355" y="2154" width="252" height="55"/><text x="2365" y="2171">itk::DiscreteGradientMagnitude</text><text x="2365" y="2185.5">GaussianImageFunction&lt; TInputImage,</text><text class="c" x="2481" y="2200">TOutput &gt;</text></g>
<g id="pcd"><rect class="b" x="2383" y="2233" width="197" height="55"/><text x="2393" y="2250">itk::PhysicalCentralDifference</text><text x="2393" y="2264.5">ImageFunction&lt; TInputImage,</text><text class="c" x="2481.5" y="2279">TCoordRep &gt;</text></g>
<g id="bscp"><rect class="b" x="2383" y="2314" width="197" height="55"/><text x="2393" y="2331">itk::BSplineControlPoint</text><text x="2393" y="2345.5">ImageFunction&lt; TInputImage,</text><text class="c" x="2481.5" y="2360">TCoordRep &gt;</text></g>
<g id="median"><rect class="b" x="2383" y="2393" width="195" height="41"/><text x="2393" y="2410">itk::MedianImageFunction</text><text class="c" x="2480.5" y="2424.5">&lt; TInputImage, TCoordRep &gt;</text></g>
<g id="vcd"><rect class="b" x="2383" y="2458" width="197" height="54"/><text x="2393" y="2475">itk::VectorCentralDifference</text><text x="2393" y="2489.5">ImageFunction&lt; TInputImage,</text><text class="c" x="2481.5" y="2504">TCoordRep &gt;</text></g>
<g id="gmf"><rect class="b" x="2360" y="2537" width="243" height="56"/><text x="2370" y="2554">itk::Statistics::Gaussian</text><text x="2370" y="2568.5">MembershipFunction&lt; TMeasurement</text><text class="c" x="2481.5" y="2583">Vector &gt;</text></g>
<g id="fb_tot"><rect class="b" x="1064" y="1100" width="232" height="55"/><text x="1074" y="1117">itk::FunctionBase&lt;</text><text x="1074" y="1131.5">Point&lt; TCoordRep, TInputImage</text><text class="c" x="1180" y="1146">::ImageDimension &gt;, TOutputType &gt;</text></g>
<g id="fb_sym"><rect class="b" x="1054" y="1190" width="256" height="83"/><text x="1064" y="1207">itk::FunctionBase&lt;</text><text x="1064" y="1221.5">Point&lt; TOutput, TInputImage</text><text x="1064" y="1236">::ImageDimension &gt;, SymmetricSecond</text><text x="1064" y="1250.5">RankTensor&lt; TOutput, TInputImage</text><text class="c" x="1182" y="1265">::ImageDimension &gt; &gt;</text></g>
<g id="fb_float"><rect class="b" x="1078" y="1288" width="206" height="55"/><text x="1088" y="1305">itk::FunctionBase&lt;</text><text x="1088" y="1319.5">Point&lt; float, TInputImage</text><text class="c" x="1181" y="1334">::ImageDimension &gt;, TOutput &gt;</text></g>
<g id="fb_vnl"><rect class="b" x="1052" y="1403" width="258" height="84"/><text x="1062" y="1420">itk::FunctionBase&lt;</text><text x="1062" y="1434.5">Point&lt; TCoordRep, TInputImage</text><text x="1062" y="1449">::ImageDimension &gt;, vnl_matrix</text><text x="1062" y="1463.5">&lt; NumericTraits&lt; TInputImage</text><text class="c" x="1181" y="1478">::PixelType::ValueType &gt;::RealType &gt; &gt;</text></g>
<g id="fb_nt"><rect class="b" x="1051" y="1560" width="261" height="68"/><text x="1061" y="1577">itk::FunctionBase&lt;</text><text x="1061" y="1591.5">Point&lt; TCoordRep, TInputImage</text><text x="1061" y="1606">::ImageDimension &gt;, NumericTraits</text><text class="c" x="1181.5" y="1620.5">&lt; TInputImage::PixelType &gt;::RealType &gt;</text></g>
<g id="fb_to"><rect class="b" x="771" y="1700" width="217" height="55"/><text x="781" y="1717">itk::FunctionBase&lt;</text><text x="781" y="1731.5">Point&lt; TCoordRep, TInputImage</text><text class="c" x="879.5" y="1746">::ImageDimension &gt;, TOutput &gt;</text></g>
<g id="fb_timg"><rect class="b" x="1051" y="1771" width="261" height="68"/><text x="1061" y="1788">itk::FunctionBase&lt;</text><text x="1061" y="1802.5">Point&lt; TCoordRep, TImageType</text><text x="1061" y="1817">::ImageDimension &gt;, NumericTraits</text><text class="c" x="1181.5" y="1831.5">&lt; TImageType::PixelType &gt;::RealType &gt;</text></g>
<g id="fb_bool"><rect class="b" x="1073" y="1870" width="216" height="54"/><text x="1083" y="1887">itk::FunctionBase&lt;</text><text x="1083" y="1901.5">Point&lt; TCoordRep, TInputImage</text><text class="c" x="1181" y="1916">::ImageDimension &gt;, bool &gt;</text></g>
<g id="fb_vec"><rect class="b" x="1035" y="1955" width="292" height="68"/><text x="1045" y="1972">itk::FunctionBase&lt;</text><text x="1045" y="1986.5">Point&lt; TOutput, TInputImage</text><text x="1045" y="2001">::ImageDimension &gt;, Vector</text><text class="c" x="1181" y="2015.5">&lt; TOutput, TInputImage::ImageDimension &gt; &gt;</text></g>
<g id="fb_toto"><rect class="b" x="1077" y="2053" width="207" height="55"/><text x="1087" y="2070">itk::FunctionBase&lt;</text><text x="1087" y="2084.5">Point&lt; TOutput, TInputImage</text><text class="c" x="1180.5" y="2099">::ImageDimension &gt;, TOutput &gt;</text></g>
<g id="fb_cov"><rect class="b" x="1040" y="2145" width="282" height="69"/><text x="1050" y="2162">itk::FunctionBase&lt;</text><text x="1050" y="2176.5">Point&lt; TCoordRep, TInputImage</text><text x="1050" y="2191">::ImageDimension &gt;, CovariantVector</text><text class="c" x="1181" y="2205.5">&lt; double, TInputImage::ImageDimension &gt; &gt;</text></g>
<g id="fb_pix"><rect class="b" x="1071" y="2226" width="220" height="69"/><text x="1081" y="2243">itk::FunctionBase&lt;</text><text x="1081" y="2257.5">Point&lt; TCoordRep, TInputImage</text><text x="1081" y="2272">::ImageDimension &gt;, TInputImage</text><text class="c" x="1181" y="2286.5">::PixelType &gt;</text></g>
<g id="fb_mat"><rect class="b" x="1030" y="2309" width="301" height="84"/><text x="1040" y="2326">itk::FunctionBase&lt;</text><text x="1040" y="2340.5">Point&lt; TCoordRep, TInputImage</text><text x="1040" y="2355">::ImageDimension &gt;, Matrix</text><text x="1040" y="2369.5">&lt; double, TInputImage::PixelType</text><text class="c" x="1180.5" y="2384">::Dimension, TInputImage::ImageDimension &gt; &gt;</text></g>
<g id="fb_tmvd"><rect class="b" x="801" y="2391" width="156" height="56"/><text x="811" y="2408">itk::FunctionBase&lt;</text><text x="811" y="2422.5">TMeasurementVector,</text><text class="c" x="879" y="2437">double &gt;</text></g>
<g id="nnet"><rect class="b" x="1375" y="2399" width="238" height="40"/><text x="1385" y="2416">itk::Statistics::NNetDistance</text><text class="c" x="1494" y="2430.5">MetricBase&lt; TMeasurementVector &gt;</text></g>
<g id="mfb_tmv"><rect class="b" x="1899" y="2432" width="252" height="40"/><text x="1909" y="2449">itk::Statistics::Membership</text><text class="c" x="2025" y="2463.5">FunctionBase&lt; TMeasurementVector &gt;</text></g>
<g id="fb_tv"><rect class="b" x="814" y="2536" width="131" height="40"/><text x="824" y="2553">itk::FunctionBase&lt;</text><text class="c" x="879.5" y="2567.5">TVector, double &gt;</text></g>
<g id="mfb_tv"><rect class="b" x="1405" y="2537" width="178" height="40"/><text x="1415" y="2554">itk::Statistics::Membership</text><text class="c" x="1494" y="2568.5">FunctionBase&lt; TVector &gt;</text></g>
<g id="dtc"><rect class="b" x="1922" y="2497" width="206" height="54"/><text x="1932" y="2514">itk::Statistics::Distance</text><text x="1932" y="2528.5">ToCentroidMembershipFunction</text><text class="c" x="2025" y="2543">&lt; TVector &gt;</text></g>
<g id="mdmf"><rect class="b" x="1928" y="2577" width="194" height="54"/><text x="1938" y="2594">itk::Statistics::Mahalanobis</text><text x="1938" y="2608.5">DistanceMembershipFunction</text><text class="c" x="2025" y="2623">&lt; TVector &gt;</text></g>
<g id="mdm"><rect class="b" x="1935" y="2656" width="180" height="40"/><text x="1945" y="2673">itk::Statistics::Mahalanobis</text><text class="c" x="2025" y="2687.5">DistanceMetric&lt; TVector &gt;</text></g>
<g id="manh"><rect class="b" x="1935" y="2721" width="180" height="40"/><text x="1945" y="2738">itk::Statistics::Manhattan</text><text class="c" x="2025" y="2752.5">DistanceMetric&lt; TVector &gt;</text></g>
<g id="eucl"><rect class="b" x="1935" y="2787" width="180" height="40"/><text x="1945" y="2804">itk::Statistics::Euclidean</text><text class="c" x="2025" y="2818.5">DistanceMetric&lt; TVector &gt;</text></g>
<g id="euclsq"><rect class="b" x="1914" y="2852" width="222" height="40"/><text x="1924" y="2869">itk::Statistics::Euclidean</text><text class="c" x="2025" y="2883.5">SquareDistanceMetric&lt; TVector &gt;</text></g>
<g id="dm_tv"><rect class="b" x="1415" y="2739" width="159" height="40"/><text x="1425" y="2756">itk::Statistics::Distance</text><text class="c" x="1494.5" y="2770.5">Metric&lt; TVector &gt;</text></g>
<g id="fb_arr"><rect class="b" x="1092" y="2800" width="178" height="41"/><text x="1102" y="2817">itk::FunctionBase&lt;</text><text class="c" x="1181" y="2831.5">Array&lt; double &gt;, double &gt;</text></g>
<g id="dm_arr"><rect class="b" x="1938" y="2917" width="175" height="41"/><text x="1948" y="2934">itk::Statistics::Distance</text><text class="c" x="2025.5" y="2948.5">Metric&lt; Array&lt; double &gt; &gt;</text></g>
<g id="eucl_arr"><rect class="b" x="2398" y="2806" width="165" height="55"/><text x="2408" y="2823">itk::Statistics::Euclidean</text><text x="2408" y="2837.5">DistanceMetric&lt; Array&lt;</text><text class="c" x="2480.5" y="2852">double &gt; &gt;</text></g>
<g id="fb_tmvs"><rect class="b" x="1417" y="2922" width="155" height="55"/><text x="1427" y="2939">itk::FunctionBase&lt;</text><text x="1427" y="2953.5">TMeasurementVector,</text><text class="c" x="1494.5" y="2968">ScalarType &gt;</text></g>
<g id="ifb_s"><rect class="b" x="1929" y="2982" width="193" height="54"/><text x="1939" y="2999">itk::Statistics::InputFunction</text><text x="1939" y="3013.5">Base&lt; TMeasurementVector,</text><text class="c" x="2025.5" y="3028">ScalarType &gt;</text></g>
<g id="efb_s"><rect class="b" x="1929" y="3061" width="193" height="55"/><text x="1939" y="3078">itk::Statistics::ErrorFunction</text><text x="1939" y="3092.5">Base&lt; TMeasurementVector,</text><text class="c" x="2025.5" y="3107">ScalarType &gt;</text></g>
<g id="prod"><rect class="b" x="2360" y="2902" width="243" height="55"/><text x="2370" y="2919">itk::Statistics::Product</text><text x="2370" y="2933.5">InputFunction&lt; TMeasurementVector,</text><text class="c" x="2481.5" y="2948">ScalarType &gt;</text></g>
<g id="suminput"><rect class="b" x="2374" y="2981" width="214" height="55"/><text x="2384" y="2998">itk::Statistics::SumInput</text><text x="2384" y="3012.5">Function&lt; TMeasurementVector,</text><text class="c" x="2481" y="3027">ScalarType &gt;</text></g>
<g id="msq"><rect class="b" x="2360" y="3062" width="242" height="55"/><text x="2370" y="3079">itk::Statistics::MeanSquared</text><text x="2370" y="3093.5">ErrorFunction&lt; TMeasurementVector,</text><text class="c" x="2481" y="3108">ScalarType &gt;</text></g>
<g id="sqd"><rect class="b" x="2359" y="3142" width="245" height="55"/><text x="2369" y="3159">itk::Statistics::Squared</text><text x="2369" y="3173.5">DifferenceErrorFunction</text><text class="c" x="2481.5" y="3188">&lt; TMeasurementVector, ScalarType &gt;</text></g>
<g id="fb_tmvt"><rect class="b" x="801" y="3001" width="156" height="56"/><text x="811" y="3018">itk::FunctionBase&lt;</text><text x="811" y="3032.5">TMeasurementVector,</text><text class="c" x="879" y="3047">TTargetVector &gt;</text></g>
<g id="ifb_t"><rect class="b" x="1397" y="3001" width="195" height="56"/><text x="1407" y="3018">itk::Statistics::InputFunction</text><text x="1407" y="3032.5">Base&lt; TMeasurementVector,</text><text class="c" x="1494.5" y="3047">TTargetVector &gt;</text></g>
<g id="efb_t"><rect class="b" x="1397" y="3081" width="195" height="56"/><text x="1407" y="3098">itk::Statistics::ErrorFunction</text><text x="1407" y="3112.5">Base&lt; TMeasurementVector,</text><text class="c" x="1494.5" y="3127">TTargetVector &gt;</text></g>
<g id="fb_ci"><rect class="b" x="777" y="3083" width="206" height="69"/><text x="787" y="3100">itk::FunctionBase&lt;</text><text x="787" y="3114.5">ContinuousIndex&lt; TCoordRep,</text><text x="787" y="3129">VSpaceDimension &gt;, Array</text><text class="c" x="880" y="3143.5">&lt; double &gt; &gt;</text></g>
<g id="bsiw"><rect class="b" x="1379" y="3162" width="231" height="55"/><text x="1389" y="3179">itk::BSplineInterpolation</text><text x="1389" y="3193.5">WeightFunction&lt; TCoordRep,</text><text class="c" x="1494.5" y="3208">VSpaceDimension, VSplineOrder &gt;</text></g>
<g id="fb_rv"><rect class="b" x="780" y="3183" width="200" height="55"/><text x="790" y="3200">itk::FunctionBase&lt;</text><text x="790" y="3214.5">TRealValueType, TRealValue</text><text class="c" x="880" y="3229">Type &gt;</text></g>
<g id="kfb_rv"><rect class="b" x="1414" y="3271" width="162" height="41"/><text x="1424" y="3288">itk::KernelFunctionBase</text><text class="c" x="1495" y="3302.5">&lt; TRealValueType &gt;</text></g>
<g id="gk"><rect class="b" x="1932" y="3141" width="186" height="40"/><text x="1942" y="3158">itk::GaussianKernelFunction</text><text class="c" x="2025" y="3172.5">&lt; TRealValueType &gt;</text></g>
<g id="bsdk"><rect class="b" x="1928" y="3206" width="194" height="41"/><text x="1938" y="3223">itk::BSplineDerivativeKernel</text><text class="c" x="2025" y="3237.5">Function&lt; TRealValueType &gt;</text></g>
<g id="bsk"><rect class="b" x="1937" y="3271" width="176" height="40"/><text x="1947" y="3288">itk::BSplineKernelFunction</text><text class="c" x="2025" y="3302.5">&lt; TRealValueType &gt;</text></g>
<g id="cdb"><rect class="b" x="1928" y="3337" width="194" height="40"/><text x="1938" y="3354">itk::CoxDeBoorBSplineKernel</text><text class="c" x="2025" y="3368.5">Function&lt; TRealValueType &gt;</text></g>
<g id="gabor"><rect class="b" x="1942" y="3402" width="166" height="41"/><text x="1952" y="3419">itk::GaborKernelFunction</text><text class="c" x="2025" y="3433.5">&lt; TRealValueType &gt;</text></g>
<g id="fb_dd"><rect class="b" x="1115" y="3350" width="132" height="40"/><text x="1125" y="3367">itk::FunctionBase&lt;</text><text class="c" x="1181" y="3381.5">double, double &gt;</text></g>
<g id="kfb_d"><rect class="b" x="1945" y="3467" width="161" height="40"/><text x="1955" y="3484">itk::KernelFunctionBase</text><text class="c" x="2025.5" y="3498.5">&lt; double &gt;</text></g>
<g id="gk_d"><rect class="b" x="2388" y="3285" width="187" height="40"/><text x="2398" y="3302">itk::GaussianKernelFunction</text><text class="c" x="2481.5" y="3316.5">&lt; double &gt;</text></g>
<g id="kf"><rect class="b" x="2416" y="3475" width="131" height="25"/><text class="c" x="2481.5" y="3492">itk::KernelFunction</text></g>
<g id="fb_ips"><rect class="b" x="787" y="3336" width="184" height="55"/><text x="797" y="3353">itk::FunctionBase&lt;</text><text x="797" y="3367.5">TInputPointSet::PointType,</text><text class="c" x="879" y="3382">TOutput &gt;</text></g>
<g id="fb_ps"><rect class="b" x="801" y="3445" width="156" height="56"/><text x="811" y="3462">itk::FunctionBase&lt;</text><text x="811" y="3476.5">TPointSet::PointType,</text><text class="c" x="879" y="3491">TOutput &gt;</text></g>
<g id="psf_i"><rect class="b" x="1405" y="3473" width="179" height="54"/><text x="1415" y="3490">itk::PointSetFunction</text><text x="1415" y="3504.5">&lt; TInputPointSet, TOutput,</text><text class="c" x="1494.5" y="3519">TCoordRep &gt;</text></g>
<g id="psf"><rect class="b" x="1950" y="3533" width="151" height="56"/><text x="1960" y="3550">itk::PointSetFunction</text><text x="1960" y="3564.5">&lt; TPointSet, TOutput,</text><text class="c" x="2025.5" y="3579">TCoordRep &gt;</text></g>
<g id="mpw"><rect class="b" x="2383" y="3534" width="196" height="55"/><text x="2393" y="3551">itk::ManifoldParzenWindows</text><text x="2393" y="3565.5">PointSetFunction&lt; TPointSet,</text><text class="c" x="2481" y="3580">TOutput, TCoordRep &gt;</text></g>
<g id="fb_mesh"><rect class="b" x="772" y="3586" width="215" height="55"/><text x="782" y="3603">itk::FunctionBase&lt;</text><text x="782" y="3617.5">TMesh, TMesh::EdgeListPointer</text><text class="c" x="879.5" y="3632">Type &gt;</text></g>
<g id="quadedge"><rect class="b" x="1392" y="3603" width="204" height="40"/><text x="1402" y="3620">itk::QuadEdgeMeshBoundary</text><text class="c" x="1494" y="3634.5">EdgesMeshFunction&lt; TMesh &gt;</text></g>
</svg>
